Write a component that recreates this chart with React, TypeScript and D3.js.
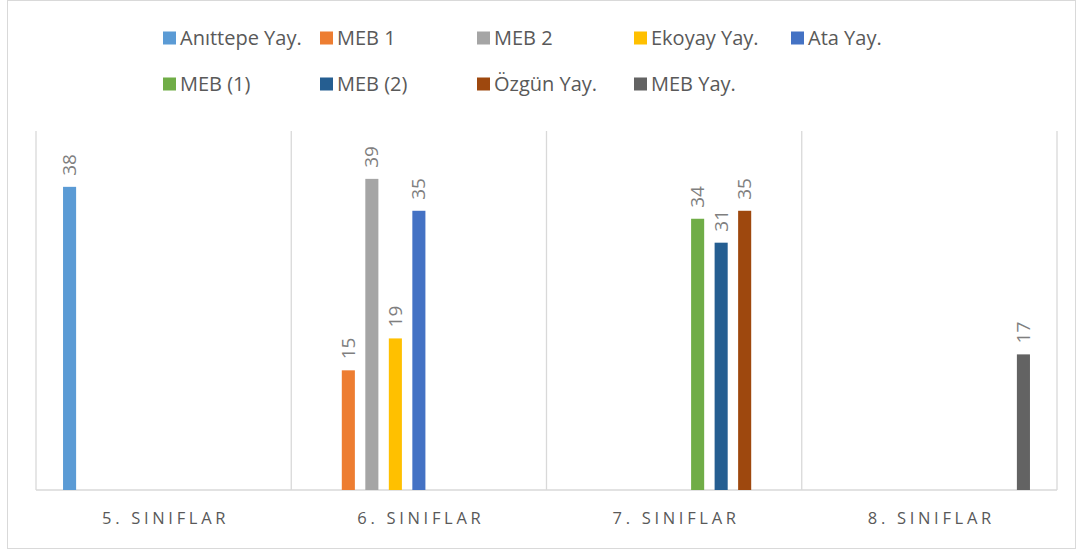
import React from 'react';
import * as d3 from 'd3';

// categories and series
const categories = ['5. SINIFLAR', '6. SINIFLAR', '7. SINIFLAR', '8. SINIFLAR'];
const seriesNames = ['Anıttepe Yay.', 'MEB 1', 'MEB 2', 'Ekoyay Yay.', 'Ata Yay.', 'MEB (1)', 'MEB (2)', 'Özgün Yay.', 'MEB Yay.'];
const seriesColors = ['#5b9bd5', '#ed7d31', '#a5a5a5', '#ffc000', '#4472c4', '#70ad47', '#255e91', '#9e480e', '#636363'];
// which category each series has a value in, and the value
const seriesCategory = [0, 1, 1, 1, 1, 2, 2, 2, 3];
const seriesValues = [38, 15, 39, 19, 35, 34, 31, 35, 17];

const W = 1079;
const H = 551;
const plot = { left: 36, right: 1057, top: 131, bottom: 490 };
const FONT = '"Open Sans", "Noto Sans", sans-serif';

export default function App() {
  const x0 = d3.scaleBand<number>()
    .domain(d3.range(categories.length))
    .range([plot.left, plot.right])
    .padding(0);

  const x1 = d3.scaleBand<number>()
    .domain(d3.range(seriesNames.length))
    .range([0, x0.bandwidth()])
    .paddingInner(0.444)
    .paddingOuter(1.15);

  const y = d3.scaleLinear().domain([0, 45]).range([plot.bottom, plot.top]);

  const legendX = d3.scalePoint<number>().domain(d3.range(5)).range([163, 791]);

  return (
    <>
      <style>{`body{margin:0}`}</style>
      <svg width={W} height={H} style={{ display: 'block', fontFamily: FONT }}>
        <rect x={7.5} y={0.5} width={1068} height={548} fill="#fff" stroke="#d9d9d9" />

        {/* category dividers */}
        {d3.range(categories.length + 1).map(i => {
          const xx = i < categories.length ? x0(i)! : plot.right;
          return (
            <line key={i} x1={xx} x2={xx} y1={plot.top} y2={plot.bottom} stroke="#d9d9d9" strokeWidth={1.3} />
          );
        })}
        <line x1={plot.left} x2={plot.right} y1={plot.bottom} y2={plot.bottom} stroke="#d9d9d9" strokeWidth={1.3} />

        {/* bars */}
        {seriesValues.map((v, i) => {
          const bx = x0(seriesCategory[i])! + x1(i)!;
          const bw = x1.bandwidth();
          const top = y(v);
          const cx = bx + bw / 2;
          return (
            <g key={i}>
              <rect x={bx} y={top} width={bw} height={plot.bottom - top} fill={seriesColors[i]} />
              <text
                transform={`translate(${cx + 6.5},${top - 11}) rotate(-90)`}
                fontSize={19}
                fill="#7f7f7f"
              >
                {v}
              </text>
            </g>
          );
        })}

        {/* category labels */}
        {categories.map((c, i) => (
          <text
            key={c}
            x={x0(i)! + x0.bandwidth() / 2 + 2}
            y={524}
            textAnchor="middle"
            fontSize={16.5}
            letterSpacing={3.7}
            fill="#595959"
          >
            {c}
          </text>
        ))}

        {/* legend */}
        {seriesNames.map((s, i) => {
          const row = i < 5 ? 0 : 1;
          const col = i < 5 ? i : i - 5;
          const lx = legendX(col)!;
          const ly = row === 0 ? 38 : 84;
          return (
            <g key={s} transform={`translate(${lx},${ly})`}>
              <rect x={0} y={-6.5} width={13} height={13} fill={seriesColors[i]} />
              <text x={17} y={7} fontSize={20} fill="#595959">
                {s}
              </text>
            </g>
          );
        })}
      </svg>
    </>
  );
}
